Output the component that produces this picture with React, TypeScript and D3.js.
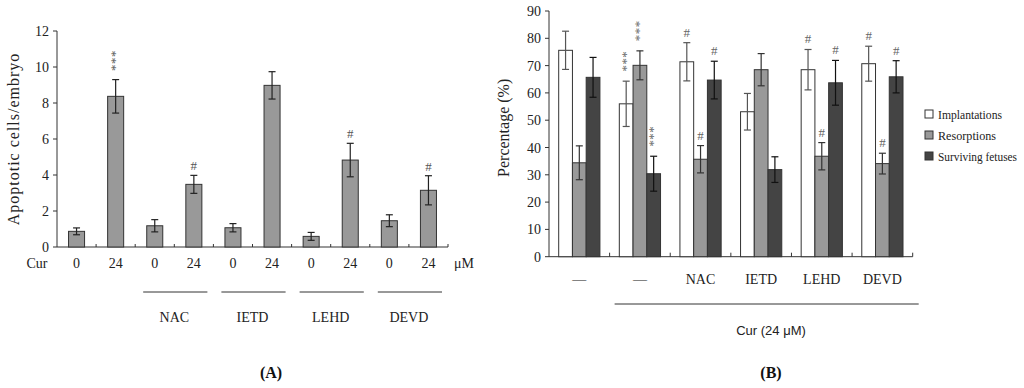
import React from "react";
import * as d3 from "d3";

// ---------- Panel A data ----------
const aDoses = ["0", "24", "0", "24", "0", "24", "0", "24", "0", "24"];
const aValues = [0.87, 8.37, 1.18, 3.48, 1.07, 8.98, 0.59, 4.83, 1.46, 3.15];
const aErrors = [0.19, 0.93, 0.34, 0.5, 0.23, 0.76, 0.22, 0.93, 0.33, 0.81];
const aMarks = ["", "***", "", "#", "", "", "", "#", "", "#"];
const aGroups = ["NAC", "IETD", "LEHD", "DEVD"];
const aTicks = [0, 2, 4, 6, 8, 10, 12];

// ---------- Panel B data ----------
const bGroups = ["—", "—", "NAC", "IETD", "LEHD", "DEVD"];
const bSeries = ["Implantations", "Resorptions", "Surviving fetuses"];
const implantations = [75.6, 56.0, 71.4, 53.1, 68.5, 70.7];
const implantationsErr = [7.0, 8.3, 7.0, 6.7, 7.4, 6.4];
const resorptions = [34.4, 70.1, 35.7, 68.5, 36.8, 34.1];
const resorptionsErr = [6.2, 5.3, 5.0, 5.9, 5.0, 3.8];
const surviving = [65.7, 30.4, 64.7, 31.9, 63.7, 65.9];
const survivingErr = [7.3, 6.4, 6.9, 4.7, 8.2, 5.9];
const implantationsMarks = ["", "***", "#", "", "#", "#"];
const resorptionsMarks = ["", "***", "#", "", "#", "#"];
const survivingMarks = ["", "***", "#", "", "#", "#"];
const bTicks = [0, 10, 20, 30, 40, 50, 60, 70, 80, 90];

// legend text widths (style)
const legendWidths = [64, 58, 79];

const serif = "Liberation Serif, Times New Roman, serif";
const sans = "Liberation Sans, Arial, sans-serif";

function Marker({ x, errTop, mark, color }: { x: number; errTop: number; mark: string; color: string }) {
  if (!mark) return null;
  if (mark === "#") {
    return (
      <text x={x} y={errTop - 5} textAnchor="middle" style={{ fontFamily: serif }} fontSize={13} fill={color}>
        #
      </text>
    );
  }
  const fs = 13;
  return (
    <text
      transform={`translate(${x},${errTop - 29}) rotate(90)`}
      y={fs * 0.58}
      textAnchor="start"
      style={{ fontFamily: serif }}
      fontSize={fs}
      letterSpacing={0.4}
      fill={color}
    >
      {mark}
    </text>
  );
}

function PanelA() {
  const x0 = 57, x1 = 448, yTop = 31, yBot = 247;
  const y = d3.scaleLinear().domain([0, 12]).range([yBot, yTop]);
  const slots = d3.scaleBand<number>().domain(d3.range(aValues.length)).range([x0, x1]).padding(0);
  const step = slots.bandwidth();
  const barW = step * 0.41;
  const textColor = "#222";
  const tf = { fontFamily: serif };
  return (
    <g>
      <line x1={x0} x2={x0} y1={yTop} y2={yBot} stroke="#333" strokeWidth={1} />
      {aTicks.map((t) => (
        <g key={t}>
          <line x1={x0 - 4} x2={x0} y1={y(t)} y2={y(t)} stroke="#333" />
          <text x={x0 - 8} y={y(t) + 5} textAnchor="end" style={tf} fontSize={14} fill={textColor}>
            {t}
          </text>
        </g>
      ))}
      <text
        transform={`translate(19,${(yTop + yBot) / 2}) rotate(-90)`}
        textAnchor="middle"
        style={tf}
        fontSize={16}
        letterSpacing={1}
        fill={textColor}
      >
        Apoptotic cells/embryo
      </text>
      <line x1={x0} x2={x1} y1={yBot} y2={yBot} stroke="#333" />
      {d3.range(1, aValues.length + 1).map((i) => (
        <line key={i} x1={x0 + i * step} x2={x0 + i * step} y1={yBot} y2={yBot - 3} stroke="#333" />
      ))}
      {aValues.map((v, i) => {
        const cx = (slots(i) as number) + step / 2;
        const e = aErrors[i];
        return (
          <g key={i}>
            <rect x={cx - barW / 2} y={y(v)} width={barW} height={yBot - y(v)} fill="#999" stroke="#333" strokeWidth={1} />
            <line x1={cx} x2={cx} y1={y(v + e)} y2={y(v - e)} stroke="#222" strokeWidth={1.2} />
            <line x1={cx - 3.5} x2={cx + 3.5} y1={y(v + e)} y2={y(v + e)} stroke="#222" strokeWidth={1.2} />
            <line x1={cx - 3.5} x2={cx + 3.5} y1={y(v - e)} y2={y(v - e)} stroke="#222" strokeWidth={1.2} />
            <Marker x={cx} errTop={y(v + e)} mark={aMarks[i]} color="#555" />
            <text x={cx} y={268} textAnchor="middle" style={tf} fontSize={14} fill={textColor}>
              {aDoses[i]}
            </text>
          </g>
        );
      })}
      <text x={37} y={268} textAnchor="middle" style={tf} fontSize={14} fill={textColor}>
        Cur
      </text>
      <text x={464} y={268} textAnchor="middle" style={tf} fontSize={14} fill={textColor}>
        μM
      </text>
      {aGroups.map((g, gi) => {
        const s = slots(2 + gi * 2) as number;
        const e = s + 2 * step;
        return (
          <g key={g}>
            <line x1={s + 8} x2={e - 6} y1={292} y2={292} stroke="#333" />
            <text x={(s + e) / 2} y={322} textAnchor="middle" style={tf} fontSize={14} fill={textColor}>
              {g}
            </text>
          </g>
        );
      })}
      <text x={271} y={378} textAnchor="middle" style={tf} fontSize={16} fontWeight="bold" fill="#111">
        (A)
      </text>
    </g>
  );
}

function PanelB() {
  const x0 = 549, x1 = 912.7, yTop = 11, yBot = 256.7;
  const y = d3.scaleLinear().domain([0, 90]).range([yBot, yTop]);
  const gx = d3.scaleBand<number>().domain(d3.range(bGroups.length)).range([x0, x1]).padding(0);
  const gw = gx.bandwidth();
  const inner = d3.scaleBand<number>().domain([0, 1, 2]).range([gw * 0.16, gw * 0.84]).padding(0);
  const values = [implantations, resorptions, surviving];
  const errs = [implantationsErr, resorptionsErr, survivingErr];
  const marks = [implantationsMarks, resorptionsMarks, survivingMarks];
  const fills = ["#ffffff", "#999999", "#444444"];
  const errColors = ["#555", "#333", "#111"];
  const textColor = "#222";
  const tf = { fontFamily: serif };
  return (
    <g>
      <line x1={x0} x2={x0} y1={yTop} y2={yBot} stroke="#333" />
      {bTicks.map((t) => (
        <g key={t}>
          <line x1={x0 - 4} x2={x0} y1={y(t)} y2={y(t)} stroke="#333" />
          <text x={x0 - 8} y={y(t) + 5} textAnchor="end" style={tf} fontSize={14} fill={textColor}>
            {t}
          </text>
        </g>
      ))}
      <text
        transform={`translate(509,${(yTop + yBot) / 2 - 6}) rotate(-90)`}
        textAnchor="middle"
        style={tf}
        fontSize={16}
        fill={textColor}
      >
        Percentage (%)
      </text>
      <line x1={x0} x2={x1} y1={yBot} y2={yBot} stroke="#333" />
      {d3.range(1, bGroups.length + 1).map((i) => (
        <line key={i} x1={x0 + i * gw} x2={x0 + i * gw} y1={yBot} y2={yBot - 4} stroke="#333" />
      ))}
      {bGroups.map((g, gi) => {
        const gs = gx(gi) as number;
        return (
          <g key={gi}>
            {values.map((series, si) => {
              const v = series[gi];
              const e = errs[si][gi];
              const bx = gs + (inner(si) as number);
              const bw = inner.bandwidth();
              const cx = bx + bw / 2;
              const m = marks[si][gi];
              return (
                <g key={si}>
                  <rect x={bx} y={y(v)} width={bw} height={yBot - y(v)} fill={fills[si]} stroke="#333" strokeWidth={1} />
                  <line x1={cx} x2={cx} y1={y(v + e)} y2={y(v - e)} stroke={errColors[si]} strokeWidth={1.2} />
                  <line x1={cx - 3.5} x2={cx + 3.5} y1={y(v + e)} y2={y(v + e)} stroke={errColors[si]} strokeWidth={1.2} />
                  <line x1={cx - 3.5} x2={cx + 3.5} y1={y(v - e)} y2={y(v - e)} stroke={errColors[si]} strokeWidth={1.2} />
                  <Marker x={cx} errTop={y(v + e) - 1} mark={m} color="#666" />
                </g>
              );
            })}
            <text x={gs + gw / 2} y={284} textAnchor="middle" style={tf} fontSize={14} fill={textColor}>
              {g}
            </text>
          </g>
        );
      })}
      <line x1={(gx(1) as number) + 5} x2={x1 + 6} y1={304} y2={304} stroke="#333" />
      <text x={771} y={335} textAnchor="middle" style={{ fontFamily: sans }} fontSize={13} fill={textColor}>
        Cur (24 μM)
      </text>
      <text x={771} y={378} textAnchor="middle" style={tf} fontSize={16} fontWeight="bold" fill="#111">
        (B)
      </text>
      {bSeries.map((s, i) => {
        const ly = 114 + i * 21;
        return (
          <g key={s}>
            <rect x={925} y={ly - 4} width={8} height={8} fill={fills[i]} stroke="#333" />
            <text
              x={938}
              y={ly + 4.5}
              style={tf}
              fontSize={12.5}
              textLength={legendWidths[i]}
              lengthAdjust="spacingAndGlyphs"
              fill={textColor}
            >
              {s}
            </text>
          </g>
        );
      })}
    </g>
  );
}

export default function App() {
  return (
    <svg
      width={1024}
      height={388}
      viewBox="0 0 1024 388"
      style={{ position: "absolute", left: 0, top: 0, background: "#fff" }}
    >
      <rect x={0} y={0} width={1024} height={388} fill="#fff" />
      <PanelA />
      <PanelB />
    </svg>
  );
}
